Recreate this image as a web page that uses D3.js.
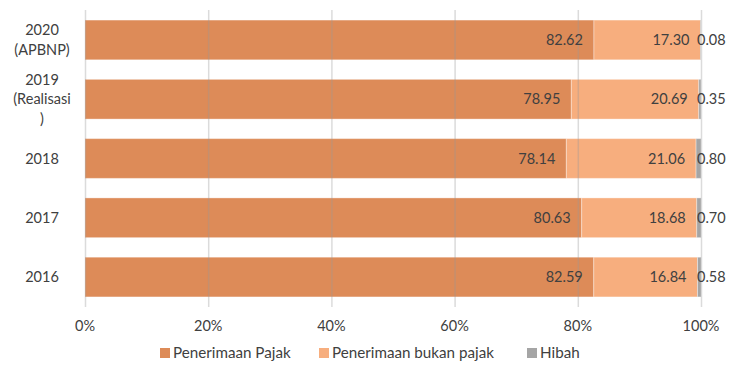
<!DOCTYPE html>
<html>
<head>
<meta charset="utf-8">
<script src="https://cdn.jsdelivr.net/npm/d3@7"></script>
<style>
  body { margin: 0; background: #fff; }
  text { font-family: Lato, "Open Sans", sans-serif; fill: #404040; }
</style>
</head>
<body>
<svg width="741" height="374"></svg>
<script>
// data
const years = ['2020 (APBNP)', '2019 (Realisasi )', '2018', '2017', '2016'];
const yearLines = [['2020', '(APBNP)'], ['2019', '(Realisasi', ')'], ['2018'], ['2017'], ['2016']];
const pajak = [82.62, 78.95, 78.14, 80.63, 82.59];
const bukanPajak = [17.30, 20.69, 21.06, 18.68, 16.84];
const hibah = [0.08, 0.35, 0.80, 0.70, 0.58];
const seriesNames = ['Penerimaan Pajak', 'Penerimaan bukan pajak', 'Hibah'];
const colors = ['#DD8B58', '#F7AE7E', '#A5A5A5'];
const ticks = [0, 20, 40, 60, 80, 100];

const svg = d3.select('svg');
const margin = { top: 10, right: 40, bottom: 67, left: 85 };
const width = 741 - margin.left - margin.right;
const height = 374 - margin.top - margin.bottom;

const rows = years.map((y, i) => ({ year: y, lines: yearLines[i], vals: [pajak[i], bukanPajak[i], hibah[i]] }));

const x = d3.scaleLinear().domain([0, 100]).range([0, 616]);
const y = d3.scaleBand().domain(years).range([0, height]).paddingInner(0.33).paddingOuter(0.17);

const g = svg.append('g').attr('transform', `translate(${margin.left},${margin.top})`);

// stacked segments
const stack = rows.map(r => {
  let acc = 0;
  return r.vals.map((v, k) => {
    const seg = { year: r.year, k, v, x0: acc, x1: acc + v };
    acc += v;
    return seg;
  });
}).flat();

g.selectAll('rect.seg')
  .data(stack)
  .enter().append('rect')
    .attr('class', 'seg')
    .attr('x', d => x(d.x0))
    .attr('y', d => y(d.year))
    .attr('width', d => x(d.x1) - x(d.x0))
    .attr('height', y.bandwidth())
    .attr('fill', d => colors[d.k])
    .attr('stroke', '#fff')
    .attr('stroke-opacity', 0.35)
    .attr('stroke-width', 1);

// gridlines on top, translucent
g.append('g')
  .selectAll('line')
  .data(ticks)
  .enter().append('line')
    .attr('x1', d => x(d) + 0.5)
    .attr('x2', d => x(d) + 0.5)
    .attr('y1', 0)
    .attr('y2', height)
    .attr('stroke', '#999')
    .attr('stroke-opacity', 0.35)
    .attr('stroke-width', 1.5);

// value labels
g.selectAll('text.val')
  .data(stack)
  .enter().append('text')
    .attr('class', 'val')
    .attr('x', d => d.k === 2 ? x(100) - 4 : x(d.x1) - 11)
    .attr('y', d => y(d.year) + y.bandwidth() / 2)
    .attr('dy', '0.35em')
    .attr('text-anchor', d => d.k === 2 ? 'start' : 'end')
    .style('font-size', '14.5px')
    .text(d => d.v.toFixed(2));

// category labels
const cat = g.selectAll('text.cat')
  .data(rows)
  .enter().append('text')
    .attr('class', 'cat')
    .attr('text-anchor', 'middle')
    .style('font-size', '14.5px')
    .attr('transform', d => `translate(-43,${y(d.year) + y.bandwidth() / 2})`);

cat.selectAll('tspan')
  .data(d => d.lines.map((t, i) => ({ t, i, n: d.lines.length })))
  .enter().append('tspan')
    .attr('x', 0)
    .attr('y', d => (d.i - (d.n - 1) / 2) * 19.5)
    .attr('dy', '0.35em')
    .text(d => d.t);

// x axis labels
g.append('g')
  .selectAll('text')
  .data(ticks)
  .enter().append('text')
    .attr('x', d => x(d))
    .attr('y', height + 19)
    .attr('dy', '0.35em')
    .attr('text-anchor', 'middle')
    .style('font-size', '14.5px')
    .text(d => d + '%');

// legend
const legendX = [160, 319, 527];
const legend = svg.append('g')
  .selectAll('g')
  .data(seriesNames)
  .enter().append('g')
    .attr('transform', (d, i) => `translate(${legendX[i]},353)`);

legend.append('rect')
  .attr('x', 0)
  .attr('y', -5)
  .attr('width', 10)
  .attr('height', 10)
  .attr('fill', (d, i) => colors[i]);

legend.append('text')
  .attr('x', 13)
  .attr('y', 0)
  .attr('dy', '0.35em')
  .style('font-size', '15.2px')
  .text(d => d);
</script>
</body>
</html>
